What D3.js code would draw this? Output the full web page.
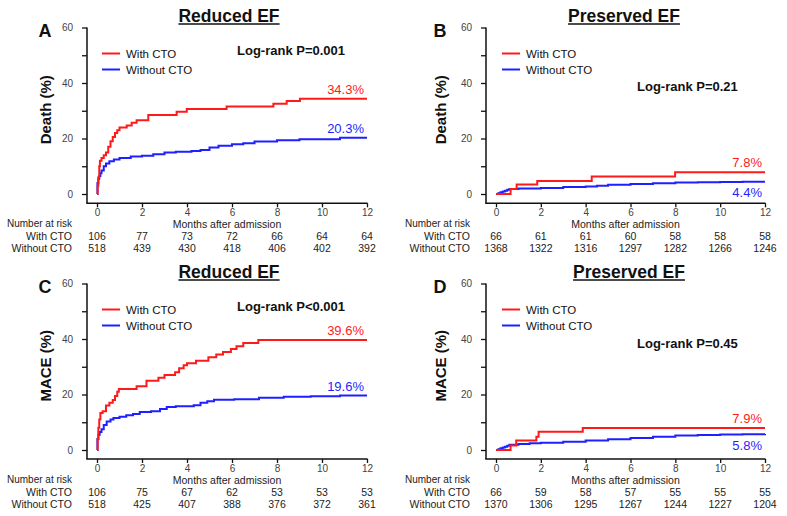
<!DOCTYPE html>
<html>
<head>
<meta charset="utf-8">
<script src="https://cdn.jsdelivr.net/npm/d3@7/dist/d3.min.js"></script>
<style>
  html, body { margin: 0; padding: 0; background: #fff; }
  svg { display: block; font-family: "Liberation Sans", Arial, Helvetica, sans-serif; }
</style>
</head>
<body>
<svg id="chart" width="787" height="516"></svg>
<script>
// ---------- DATA ----------
const months = [0, 2, 4, 6, 8, 10, 12];
const yTicks = [0, 10, 20, 30, 40, 50, 60];
const yTickLabels = [0, 20, 40, 60];
const seriesNames = ["With CTO", "Without CTO"];

// [month, cumulative %]
const deathReducedCTO = [[0,0],[0.03,3],[0.06,6],[0.1,10],[0.13,12],[0.2,13],[0.3,14],[0.4,15],[0.5,17],[0.6,19],[0.7,20.5],[0.8,22],[0.9,23],[1.0,24],[1.32,24.7],[1.54,25.7],[1.76,26.6],[2.28,28.5],[3.54,29.6],[3.99,30.6],[5.76,31.5],[7.84,32.5],[8.43,33.5],[9.02,34.3],[12,34.3]];
const deathReducedNoCTO = [[0,0],[0.02,4],[0.06,5.5],[0.1,6.5],[0.15,7.5],[0.2,8.5],[0.3,10],[0.4,11],[0.55,11.8],[0.75,12.4],[1.0,13],[1.5,13.5],[2.0,13.8],[2.5,14.3],[3.0,15],[3.5,15.2],[4.2,15.5],[4.6,15.9],[5.0,16.8],[5.4,17.4],[6.0,17.9],[6.5,18.3],[7.0,18.9],[8.0,19.4],[9.0,19.7],[10.8,20.3],[12,20.3]];
const deathPreservedCTO = [[0,0],[0.65,1.8],[0.92,3.4],[1.84,4.7],[4.27,6.3],[7.99,7.8],[12,7.8]];
const deathPreservedNoCTO = [[0,0],[0.1,0.3],[0.2,0.6],[0.3,0.9],[0.4,1.2],[0.5,1.5],[0.6,1.8],[1.0,2.0],[2.0,2.2],[3.0,2.5],[4.0,2.7],[4.5,3.0],[5.0,3.3],[6.0,3.6],[7.0,3.9],[8.0,4.1],[9.0,4.2],[10.0,4.3],[11.0,4.4],[12,4.4]];
const maceReducedCTO = [[0,0],[0.03,4],[0.06,8],[0.1,11],[0.15,13.3],[0.25,14],[0.4,16],[0.55,17],[0.7,18],[0.8,19.5],[0.9,21],[0.97,22],[1.76,23],[2.2,25],[2.73,26],[3.0,27],[3.47,28],[3.65,29.5],[3.85,30.5],[4.0,31.3],[4.4,32.2],[4.95,33.4],[5.3,34.4],[5.6,35.3],[5.95,36.4],[6.2,37.4],[6.5,38.6],[7.17,39.6],[12,39.6]];
const maceReducedNoCTO = [[0,0],[0.02,4],[0.06,5.5],[0.12,6.5],[0.2,7.5],[0.3,9],[0.43,10.3],[0.6,11],[0.73,11.5],[1.0,12],[1.3,12.5],[1.6,13],[1.9,13.7],[2.4,14],[2.8,14.8],[3.1,15.5],[3.5,15.8],[4.3,16.1],[4.6,17],[4.9,17.6],[5.2,18.1],[6.1,18.3],[7.2,18.8],[8.3,19.2],[9.5,19.4],[10.8,19.6],[12,19.6]];
const macePreservedCTO = [[0,0],[0.65,1.6],[0.9,3.4],[1.8,4.8],[1.9,6.6],[3.87,7.9],[12,7.9]];
const macePreservedNoCTO = [[0,0],[0.1,0.3],[0.2,0.6],[0.3,0.9],[0.4,1.2],[0.5,1.5],[0.6,1.9],[1.0,2.2],[1.5,2.4],[2.0,2.6],[3.0,3.0],[4.0,3.4],[5.0,3.9],[6.0,4.3],[7.0,4.8],[8.0,5.2],[9.0,5.4],[10.0,5.6],[11.0,5.7],[12,5.8]];

// Numbers at risk
const riskA_with = [106, 77, 73, 72, 66, 64, 64];
const riskA_without = [518, 439, 430, 418, 406, 402, 392];
const riskB_with = [66, 61, 61, 60, 58, 58, 58];
const riskB_without = [1368, 1322, 1316, 1297, 1282, 1266, 1246];
const riskC_with = [106, 75, 67, 62, 53, 53, 53];
const riskC_without = [518, 425, 407, 388, 376, 372, 361];
const riskD_with = [66, 59, 58, 57, 55, 55, 55];
const riskD_without = [1370, 1306, 1295, 1267, 1244, 1227, 1204];

const finalA = ["34.3%", "20.3%"];
const finalB = ["7.8%", "4.4%"];
const finalC = ["39.6%", "19.6%"];
const finalD = ["7.9%", "5.8%"];

// ---------- LAYOUT ----------
const RED = "#ff1a1a", BLUE = "#1f1fff";
const cols = [
  { axisX: 87, x0: 97, x1: 367, letterX: 45, ylabX: 46, legendX: 102, riskLabelEnd: 72, narX: 7 },
  { axisX: 486, x0: 496, x1: 765, letterX: 440, ylabX: 441, legendX: 502, riskLabelEnd: 470, narX: 405 }
];
const rows = [
  { yTop: 27.5, yBot: 194, axisY: 203.3 },
  { yTop: 283.5, yBot: 450, axisY: 459 }
];

const panels = [
  { letter: "A", col: 0, row: 0, title: "Reduced EF", titleX: 229, ylabel: "Death (%)", logrank: "Log-rank P=0.001", lrX: 237, lrY: 54.5,
    cto: deathReducedCTO, noCto: deathReducedNoCTO, rw: riskA_with, rwo: riskA_without, fin: finalA, finOff: [-5, -5] },
  { letter: "B", col: 1, row: 0, title: "Preserved EF", titleX: 624, ylabel: "Death (%)", logrank: "Log-rank P=0.21", lrX: 637, lrY: 91,
    cto: deathPreservedCTO, noCto: deathPreservedNoCTO, rw: riskB_with, rwo: riskB_without, fin: finalB, finOff: [-5, 15] },
  { letter: "C", col: 0, row: 1, title: "Reduced EF", titleX: 229, ylabel: "MACE (%)", logrank: "Log-rank P<0.001", lrX: 237, lrY: 311,
    cto: maceReducedCTO, noCto: maceReducedNoCTO, rw: riskC_with, rwo: riskC_without, fin: finalC, finOff: [-5, -5] },
  { letter: "D", col: 1, row: 1, title: "Preserved EF", titleX: 629, ylabel: "MACE (%)", logrank: "Log-rank P=0.45", lrX: 637, lrY: 348,
    cto: macePreservedCTO, noCto: macePreservedNoCTO, rw: riskD_with, rwo: riskD_without, fin: finalD, finOff: [-5, 16] }
];

const svg = d3.select("#chart");

panels.forEach(p => {
  const c = cols[p.col], r = rows[p.row];
  const g = svg.append("g");
  const x = d3.scaleLinear().domain([0, 12]).range([c.x0, c.x1]);
  const y = d3.scaleLinear().domain([0, 60]).range([r.yBot, r.yTop]);

  // Title with underline
  const t = g.append("text").attr("x", p.titleX).attr("y", r.yTop - 5.5)
    .attr("text-anchor", "middle").attr("font-size", 17.5).attr("font-weight", "bold")
    .attr("fill", "#111").text(p.title);
  const tw = t.node().getComputedTextLength();
  g.append("line").attr("x1", p.titleX - tw / 2).attr("x2", p.titleX + tw / 2)
    .attr("y1", r.yTop - 3.5).attr("y2", r.yTop - 3.5).attr("stroke", "#111").attr("stroke-width", 1.4);

  // Panel letter
  g.append("text").attr("x", c.letterX).attr("y", r.yTop + 9).attr("text-anchor", "middle")
    .attr("font-size", 18).attr("font-weight", "bold").attr("fill", "#111").text(p.letter);

  // Y label
  g.append("text").attr("transform", `translate(${c.ylabX},${(r.yTop + r.yBot) / 2 - 1}) rotate(-90)`)
    .attr("text-anchor", "middle").attr("dy", "0.36em").attr("font-size", 15).attr("font-weight", "bold")
    .attr("fill", "#111").text(p.ylabel);

  // Y axis
  const yAxis = d3.axisLeft(y).tickValues(yTicks).tickSize(5).tickPadding(9)
    .tickFormat(d => yTickLabels.includes(d) ? d : "");
  const ya = g.append("g").attr("transform", `translate(${c.axisX},0)`).call(yAxis);
  ya.select(".domain").remove();
  ya.selectAll(".tick line").attr("stroke", "#111").attr("stroke-width", 1.3);
  ya.selectAll(".tick text").attr("font-size", 10).attr("fill", "#444").attr("font-family", null);
  g.append("line").attr("x1", c.axisX).attr("x2", c.axisX).attr("y1", y(60)).attr("y2", r.axisY)
    .attr("stroke", "#111").attr("stroke-width", 1.5);

  // X axis
  const xAxis = d3.axisBottom(x).tickValues(months).tickSize(4).tickPadding(1.5);
  const xa = g.append("g").attr("transform", `translate(0,${r.axisY})`).call(xAxis);
  xa.select(".domain").remove();
  xa.selectAll(".tick line").attr("stroke", "#111").attr("stroke-width", 1.3);
  xa.selectAll(".tick text").attr("font-size", 10).attr("fill", "#444").attr("font-family", null);
  g.append("line").attr("x1", c.axisX - 0.75).attr("x2", x(12) + 0.6).attr("y1", r.axisY).attr("y2", r.axisY)
    .attr("stroke", "#111").attr("stroke-width", 1.5);

  // Axis title & risk table
  g.append("text").attr("x", x(6) - 5).attr("y", r.axisY + 24.5).attr("text-anchor", "middle")
    .attr("font-size", 10.5).attr("fill", "#222").text("Months after admission");
  g.append("text").attr("x", c.narX).attr("y", r.axisY + 24).attr("font-size", 10)
    .attr("fill", "#222").text("Number at risk");
  const riskRows = [p.rw, p.rwo];
  riskRows.forEach((vals, i) => {
    const yy = r.axisY + 36.8 + i * 12;
    g.append("text").attr("x", c.riskLabelEnd).attr("y", yy).attr("text-anchor", "end")
      .attr("font-size", 10.5).attr("fill", "#222").text(seriesNames[i]);
    g.selectAll(null).data(vals).enter().append("text")
      .attr("x", (d, k) => x(months[k])).attr("y", yy).attr("text-anchor", "middle")
      .attr("font-size", 10.5).attr("fill", "#222").text(d => d);
  });

  // Curves (blue first, red on top)
  const line = d3.line().x(d => x(d[0])).y(d => y(d[1])).curve(d3.curveStepAfter);
  [[p.noCto, BLUE], [p.cto, RED]].forEach(([data, col]) => {
    g.append("path").datum(data).attr("d", line).attr("fill", "none")
      .attr("stroke", col).attr("stroke-width", 2);
  });

  // Final labels
  [[p.cto, RED, p.fin[0], p.finOff[0]], [p.noCto, BLUE, p.fin[1], p.finOff[1]]].forEach(([data, col, lbl, off]) => {
    const last = data[data.length - 1];
    g.append("text").attr("x", x(last[0]) - 3).attr("y", y(last[1]) + off)
      .attr("text-anchor", "end").attr("font-size", 13).attr("fill", col).text(lbl);
  });

  // Legend
  [[RED, 0], [BLUE, 1]].forEach(([col, i]) => {
    const ly = r.yTop + 26 + i * 16;
    g.append("line").attr("x1", c.legendX).attr("x2", c.legendX + 18).attr("y1", ly).attr("y2", ly)
      .attr("stroke", col).attr("stroke-width", 2);
    g.append("text").attr("x", c.legendX + 24).attr("y", ly + 4.2).attr("font-size", 11.5)
      .attr("fill", "#111").text(seriesNames[i]);
  });

  // Log-rank
  g.append("text").attr("x", p.lrX).attr("y", p.lrY).attr("font-size", 13).attr("font-weight", "bold")
    .attr("fill", "#111").text(p.logrank);
});
</script>
</body>
</html>
